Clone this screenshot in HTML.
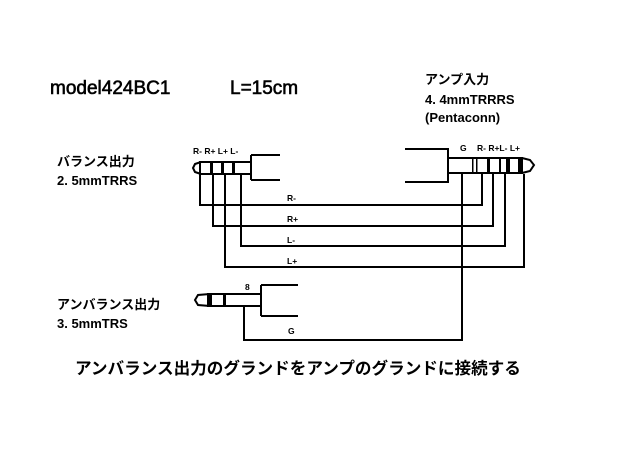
<!DOCTYPE html>
<html><head><meta charset="utf-8"><style>
html,body{margin:0;padding:0;background:#fff;}
svg{display:block}
text{font-family:"Liberation Sans","Noto Sans CJK JP",sans-serif;font-weight:bold;fill:#000}
</style></head><body>
<svg width="620" height="465" viewBox="0 0 620 465" xmlns="http://www.w3.org/2000/svg">
<rect width="620" height="465" fill="#fff"/>
<text x="50" y="94" font-size="19" style="font-weight:normal" stroke="#000" stroke-width="0.6">model424BC1</text>
<text x="230" y="94" font-size="19" style="font-weight:normal" stroke="#000" stroke-width="0.6">L=15cm</text>
<text x="425" y="84" font-size="13">アンプ入力</text>
<text x="425" y="104" font-size="13">4. 4mmTRRRS</text>
<text x="425" y="122" font-size="13">(Pentaconn)</text>
<text x="57" y="166" font-size="13">バランス出力</text>
<text x="57" y="185" font-size="13">2. 5mmTRRS</text>
<text x="57" y="309" font-size="13">アンバランス出力</text>
<text x="57" y="328" font-size="13">3. 5mmTRS</text>
<text x="75" y="374" font-size="16.6">アンバランス出力のグランドをアンプのグランドに接続する</text>
<g font-size="8.5">
<text x="193" y="154">R- R+ L+ L-</text>
<text x="460" y="151">G</text>
<text x="477" y="151">R- R+L-  L+</text>
<text x="245" y="290">8</text>
<text x="288" y="334">G</text>
<text x="287" y="201">R-</text>
<text x="287" y="222">R+</text>
<text x="287" y="243">L-</text>
<text x="287" y="264">L+</text>
</g>
<g stroke="#000" stroke-width="2" fill="none">
<path d="M201 162 L195 164 L193 168 L195 172 L201 174"/>
<rect x="200" y="162" width="51" height="12"/>
<path d="M251 155 V180 M251 155 H280 M251 180 H280"/>
<path d="M200 174 V205 H482 V174"/>
<path d="M213 174 V226 H493 V174"/>
<path d="M225 174 V267 H524 V174"/>
<path d="M241 174 V246 H505 V174"/>
<path d="M405 149 H448 V182 H405"/>
<rect x="448" y="158" width="74" height="15"/>
<path d="M522 158 L530 160 L534 165 L530 171 L522 173"/>
<path d="M462 173 V340 H244 V306"/>
<path d="M210 294 L198 295 L195 300 L198 305 L210 306"/>
<rect x="208" y="294" width="53" height="12"/>
<path d="M261 285 V316 M261 285 H298 M261 316 H298"/>
</g>
<g fill="#000">
<rect x="210" y="162" width="3" height="12"/>
<rect x="221" y="162" width="3" height="12"/>
<rect x="232" y="162" width="3" height="12"/>
<rect x="472" y="158" width="1.5" height="15"/>
<rect x="476" y="158" width="1.5" height="15"/>
<rect x="487" y="158" width="3" height="15"/>
<rect x="499" y="158" width="2" height="15"/>
<rect x="506" y="158" width="4" height="15"/>
<rect x="518" y="158" width="3" height="15"/>
<rect x="208" y="294" width="4" height="12"/>
<rect x="223" y="294" width="3" height="12"/>
</g>
</svg>
</body></html>
